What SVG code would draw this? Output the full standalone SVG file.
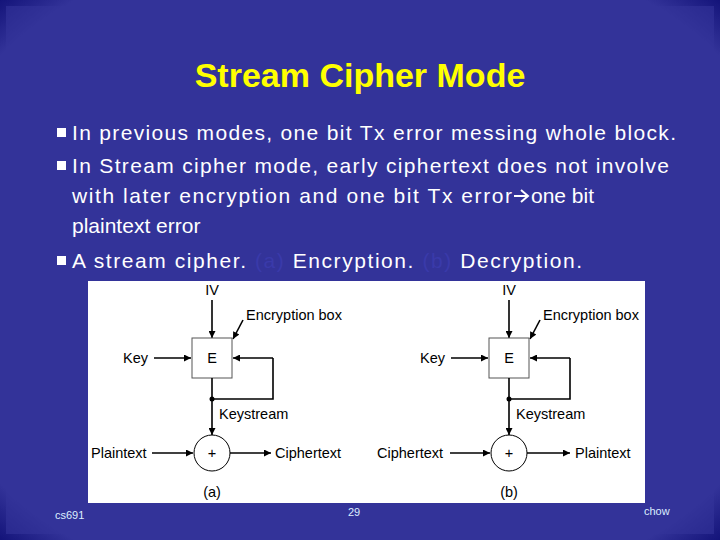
<svg xmlns="http://www.w3.org/2000/svg" width="720" height="540" viewBox="0 0 720 540">
<defs>
<radialGradient id="bg" cx="50%" cy="50%" r="75%">
<stop offset="0.85" stop-color="#333399"/><stop offset="1" stop-color="#000066"/>
</radialGradient>
<marker id="ah" viewBox="0 0 10 10" refX="10" refY="5" markerWidth="9" markerHeight="7" markerUnits="userSpaceOnUse" orient="auto"><path d="M0,0 L10,5 L0,10 z" fill="#000"/></marker>
<style>
.t{font-family:"Liberation Sans",Arial,sans-serif;fill:#fff;font-size:21px}
.f{font-family:"Liberation Sans",Arial,sans-serif;font-size:14.5px;fill:#000}
.ln{stroke:#000;stroke-width:1.6;fill:none}
.ar{stroke:#000;stroke-width:1.6;fill:none;marker-end:url(#ah)}
.ft{font-family:"Liberation Sans",Arial,sans-serif;font-size:11px;fill:#ddeeff}
</style>
</defs>
<rect width="720" height="540" fill="url(#bg)"/>
<rect x="6" y="6" width="708" height="528" fill="#333399" opacity="0.6"/>
<text x="360" y="87" text-anchor="middle" font-family="Liberation Sans,Arial,sans-serif" font-weight="bold" font-size="34" fill="#ffff00">Stream Cipher Mode</text>
<g fill="#fff"><rect x="57" y="128" width="9" height="9"/><rect x="57" y="161" width="9" height="9"/><rect x="57" y="256" width="9" height="9"/></g>
<text class="t" x="72" y="140" textLength="604" lengthAdjust="spacing">In previous modes, one bit Tx error messing whole block.</text>
<text class="t" x="72" y="173" textLength="597" lengthAdjust="spacing">In Stream cipher mode, early ciphertext does not involve</text>
<text class="t" x="72" y="203" textLength="440" lengthAdjust="spacing">with later encryption and one bit Tx error</text>
<path d="M514,196 L527,196 M521,190 L528,196 L521,202" stroke="#fff" stroke-width="2" fill="none"/>
<text class="t" x="531" y="203">one bit</text>
<text class="t" x="72" y="233">plaintext error</text>
<text class="t" x="72" y="268" textLength="510" lengthAdjust="spacing">A stream cipher.  <tspan fill="#3a3aaa">(a)</tspan> Encryption.  <tspan fill="#3a3aaa">(b)</tspan> Decryption.</text>
<rect x="88" y="281" width="557" height="222" fill="#fff"/>
<g id="diagA">
<text class="f" x="212" y="295" text-anchor="middle">IV</text>
<path class="ar" d="M212,300 L212,338"/>
<text class="f" x="246" y="320">Encryption box</text>
<path class="ar" d="M243,320 L233,339"/>
<rect x="192" y="338" width="40" height="40" fill="#fff" stroke="#555" stroke-width="1"/>
<text class="f" x="212" y="363" text-anchor="middle">E</text>
<text class="f" x="123" y="363">Key</text>
<path class="ar" d="M154,358 L191,358"/>
<path class="ln" d="M212,378 L212,399 L273,399 L273,358"/>
<path class="ar" d="M273,358 L233,358"/>
<circle cx="212" cy="399" r="2.5"/>
<text class="f" x="219" y="419">Keystream</text>
<path class="ar" d="M212,399 L212,435"/>
<circle cx="212" cy="453" r="18" fill="#fff" stroke="#000" stroke-width="1"/>
<text class="f" x="212" y="458" text-anchor="middle">+</text>
<text class="f" x="91" y="458">Plaintext</text>
<path class="ar" d="M152,453 L193,453"/>
<path class="ar" d="M230,453 L271,453"/>
<text class="f" x="275" y="458">Ciphertext</text>
<text class="f" x="212" y="497" text-anchor="middle">(a)</text>
</g>
<g id="diagB">
<text class="f" x="509" y="295" text-anchor="middle">IV</text>
<path class="ar" d="M509,300 L509,338"/>
<text class="f" x="543" y="320">Encryption box</text>
<path class="ar" d="M540,320 L530,339"/>
<rect x="489" y="338" width="40" height="40" fill="#fff" stroke="#555" stroke-width="1"/>
<text class="f" x="509" y="363" text-anchor="middle">E</text>
<text class="f" x="420" y="363">Key</text>
<path class="ar" d="M451,358 L488,358"/>
<path class="ln" d="M509,378 L509,399 L570,399 L570,358"/>
<path class="ar" d="M570,358 L530,358"/>
<circle cx="509" cy="399" r="2.5"/>
<text class="f" x="516" y="419">Keystream</text>
<path class="ar" d="M509,399 L509,435"/>
<circle cx="509" cy="453" r="18" fill="#fff" stroke="#000" stroke-width="1"/>
<text class="f" x="509" y="458" text-anchor="middle">+</text>
<text class="f" x="377" y="458">Ciphertext</text>
<path class="ar" d="M450,453 L490,453"/>
<path class="ar" d="M527,453 L570,453"/>
<text class="f" x="575" y="458">Plaintext</text>
<text class="f" x="509" y="497" text-anchor="middle">(b)</text>
</g>
<text class="ft" x="55" y="519">cs691</text>
<text class="ft" x="348" y="516">29</text>
<text class="ft" x="644" y="515">chow</text>
</svg>
